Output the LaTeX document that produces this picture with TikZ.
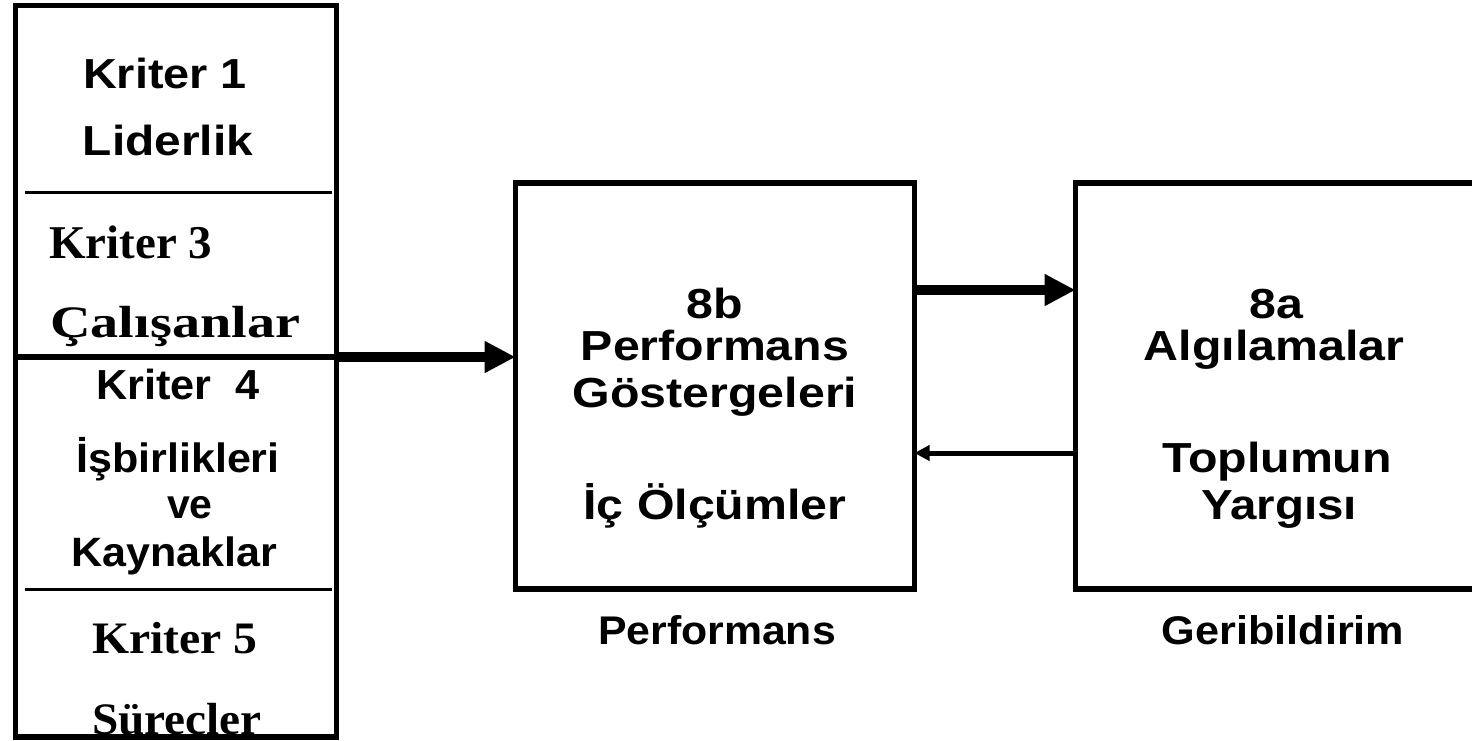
\documentclass[tikz,border=0pt]{standalone}
\usepackage{fontspec}
\setmainfont{Liberation Serif}
\setsansfont{Liberation Sans}
\usepackage{graphicx}
\usetikzlibrary{arrows.meta}
\newcommand\mytx[3]{\scalebox{#2}[1]{\fontsize{#1}{#1}\selectfont #3}}
\tikzset{
  lbl/.style={anchor=base, inner sep=0pt, font=\sffamily\bfseries},
  slbl/.style={anchor=base, inner sep=0pt, font=\rmfamily\bfseries},
  boxframe/.style={draw, line width=5.5pt, inner sep=0pt, outer sep=0pt},
  sepline/.style={line width=3pt},
  bigarrow/.style={line width=10pt, -{Triangle[length=31pt, width=30pt]}},
  smallarrow/.style={line width=5pt, -{Triangle[length=15pt, width=15pt]}}
}
\begin{document}
\begin{tikzpicture}[x=1pt, y=-1pt]
\useasboundingbox (0,0) rectangle (1472,740);
\clip (0,0) rectangle (1472,740);
% ---- left column texts
\node[lbl] (k1) at (165,88) {\mytx{42}{1.115}{Kriter 1}};
\node[lbl] (lid) at (168,155) {\mytx{42}{1.14}{Liderlik}};
\node[slbl, anchor=base west] (k3) at (49,258) {\mytx{47}{1.0}{Kriter 3}};
\node[slbl, anchor=base west] (cal) at (50,337) {\mytx{45}{1.25}{Çalışanlar}};
\node[lbl] (k4) at (178,399) {\mytx{42}{1.03}{Kriter~~4}};
\node[lbl] (isb) at (178,472) {\mytx{41}{1.05}{İşbirlikleri}};
\node[lbl] (ve) at (190,518) {\mytx{41}{1.0}{ve}};
\node[lbl] (kay) at (174,566) {\mytx{41}{1.05}{Kaynaklar}};
\node[slbl] (k5) at (175,653) {\mytx{45}{1.06}{Kriter 5}};
\node[slbl] (sur) at (177,734) {\mytx{45}{1.05}{Sürecler}};
% ---- middle box texts
\node[lbl] (m1) at (715,318) {\mytx{42}{1.15}{8b}};
\node[lbl] (m2) at (715,360) {\mytx{42}{1.15}{Performans}};
\node[lbl] (m3) at (715,407) {\mytx{42}{1.15}{Göstergeleri}};
\node[lbl] (m4) at (715,519) {\mytx{42}{1.15}{İç Ölçümler}};
% ---- right box texts
\node[lbl] (r1) at (1276,318) {\mytx{42}{1.15}{8a}};
\node[lbl] (r2) at (1274,360) {\mytx{42}{1.15}{Algılamalar}};
\node[lbl] (r3) at (1277,472) {\mytx{42}{1.15}{Toplumun}};
\node[lbl] (r4) at (1279,519) {\mytx{42}{1.13}{Yargısı}};
% ---- captions
\node[lbl] (cap1) at (717,644) {\mytx{40}{1.07}{Performans}};
\node[lbl] (cap2) at (1283,644) {\mytx{40}{1.08}{Geribildirim}};
% ---- boxes
\node[boxframe, minimum width=321pt, minimum height=351.5pt] (colA) at (176,181.25) {};
\node[boxframe, minimum width=321pt, minimum height=380pt] (colB) at (176,547) {};
\node[boxframe, minimum width=399pt, minimum height=406pt] (mid) at (715,386) {};
\node[boxframe, minimum width=404.5pt, minimum height=406pt] (right) at (1277.75,386) {};
% separator lines inside left column
\draw[sepline] (25,192.5) -- (332,192.5);
\draw[sepline] (25,589.5) -- (332,589.5);
% ---- connectors
\coordinate (ya) at (0,290);
\coordinate (yb) at (0,453);
\draw[bigarrow] (colA.south east) -- (mid.west |- colA.south east);
\draw[bigarrow] (mid.east |- ya) -- (right.west |- ya);
\draw[smallarrow] (right.west |- yb) -- (mid.east |- yb);
\end{tikzpicture}
\end{document}
